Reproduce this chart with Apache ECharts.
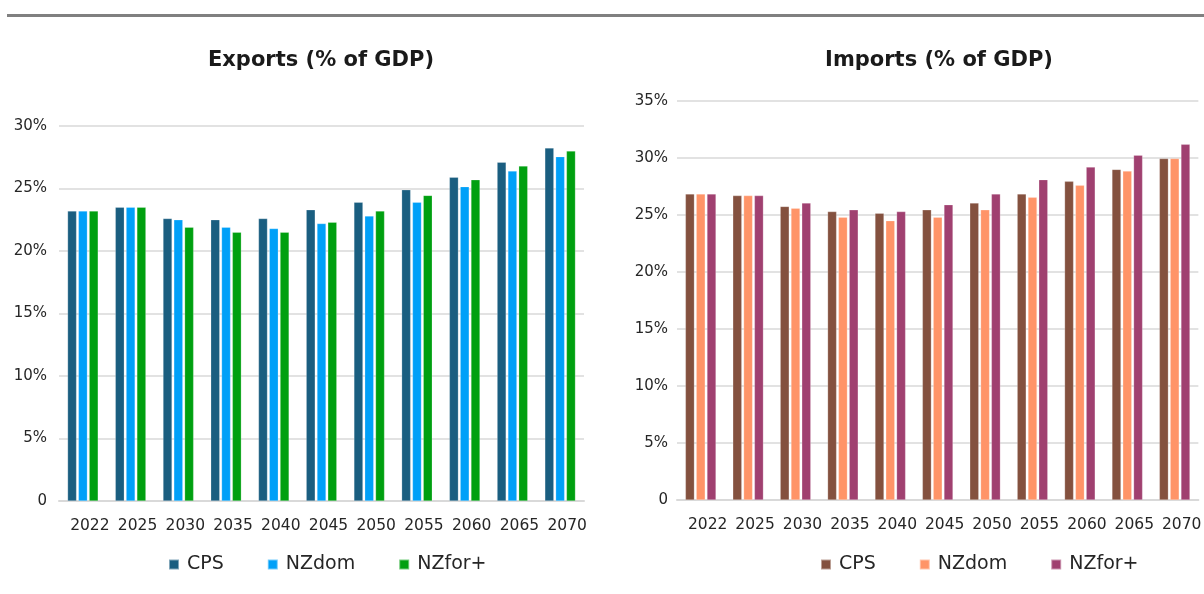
<!DOCTYPE html>
<html>
<head>
<meta charset="utf-8">
<script src="https://cdn.jsdelivr.net/npm/echarts@6/dist/echarts.min.js"></script>
<style>
html,body{margin:0;padding:0;background:#fff;width:1204px;height:594px;overflow:hidden;}
#topline{position:absolute;left:7px;top:14px;width:1197px;height:3px;background:#808080;}
#left{position:absolute;left:0;top:0;width:602px;height:594px;}
#right{position:absolute;left:600px;top:0;width:604px;height:594px;}
</style>
</head>
<body>
<div id="topline"></div>
<div id="left"></div>
<div id="right"></div>
<script>
const years = ['2022','2025','2030','2035','2040','2045','2050','2055','2060','2065','2070'];
const seriesNames = ['CPS','NZdom','NZfor+'];

const exportsCPS   = [23.2, 23.5, 22.6, 22.5, 22.6, 23.3, 23.9, 24.9, 25.9, 27.1, 28.25];
const exportsNZdom = [23.2, 23.5, 22.5, 21.9, 21.8, 22.2, 22.8, 23.9, 25.15, 26.4, 27.55];
const exportsNZfor = [23.2, 23.5, 21.9, 21.5, 21.5, 22.3, 23.2, 24.45, 25.7, 26.8, 28.0];

const importsCPS   = [26.85, 26.7, 25.75, 25.3, 25.15, 25.45, 26.05, 26.85, 27.95, 29.0, 29.95];
const importsNZdom = [26.85, 26.7, 25.6, 24.8, 24.5, 24.8, 25.45, 26.55, 27.6, 28.85, 29.95];
const importsNZfor = [26.85, 26.7, 26.05, 25.45, 25.3, 25.9, 26.85, 28.1, 29.2, 30.25, 31.2];

const exportColors = ['#1a5e80', '#00a0f8', '#00a010'];
const importColors = ['#84513f', '#ff9468', '#a04070'];

const FONT = 'DejaVu Sans';

function makeOption(cfg) {
  return {
    animation: false,
    textStyle: { fontFamily: FONT },
    title: {
      text: cfg.title,
      left: cfg.titleCenter, top: 45,
      textAlign: 'center',
      textStyle: { fontFamily: FONT, fontSize: 21, fontWeight: 'bold', color: '#1a1a1a' }
    },
    legend: {
      left: cfg.legendLeft, top: 555, padding: 0,
      itemWidth: 10, itemHeight: 10, itemGap: 43,
      icon: 'rect',
      textStyle: { fontFamily: FONT, fontSize: 19, color: '#262626', padding: [0,0,0,3] },
      data: seriesNames
    },
    grid: { left: cfg.gridLeft, right: cfg.gridRight, top: cfg.gridTop, bottom: cfg.gridBottom, containLabel: false },
    xAxis: {
      type: 'category',
      data: years,
      axisLine: { show: true, lineStyle: { color: '#d9d9d9', width: 2 } },
      axisTick: { show: false },
      axisLabel: { fontFamily: FONT, fontSize: 15.5, color: '#262626', margin: 17, padding: [0,0,0,14], interval: 0 }
    },
    yAxis: {
      type: 'value',
      min: 0, max: cfg.max, interval: 5,
      axisLine: { show: false },
      axisTick: { show: false },
      splitLine: { lineStyle: { color: '#d9d9d9', width: 1.5 } },
      axisLabel: {
        fontFamily: FONT, fontSize: 15, color: '#262626', margin: cfg.labelMargin,
        formatter: v => v === 0 ? '0' : v + '%'
      }
    },
    series: cfg.data.map((d, i) => ({
      name: seriesNames[i],
      type: 'bar',
      data: d,
      barWidth: 9,
      barGap: '20%',
      itemStyle: { color: cfg.colors[i], borderColor: 'rgba(255,255,255,0.45)', borderWidth: 0.5 }
    }))
  };
}

const leftChart = echarts.init(document.getElementById('left'), null, { renderer: 'canvas' });
leftChart.setOption(makeOption({
  title: 'Exports (% of GDP)',
  titleCenter: 316,
  legendLeft: 168,
  gridLeft: 59, gridRight: 18, gridTop: 126, gridBottom: 93,
  max: 30, labelMargin: 12,
  data: [exportsCPS, exportsNZdom, exportsNZfor],
  colors: exportColors
}));

const rightChart = echarts.init(document.getElementById('right'), null, { renderer: 'canvas' });
rightChart.setOption(makeOption({
  title: 'Imports (% of GDP)',
  titleCenter: 334,
  legendLeft: 220,
  gridLeft: 77, gridRight: -3, gridTop: 101, gridBottom: 94,
  max: 35, labelMargin: 9,
  data: [importsCPS, importsNZdom, importsNZfor],
  colors: importColors
}));
</script>
</body>
</html>
